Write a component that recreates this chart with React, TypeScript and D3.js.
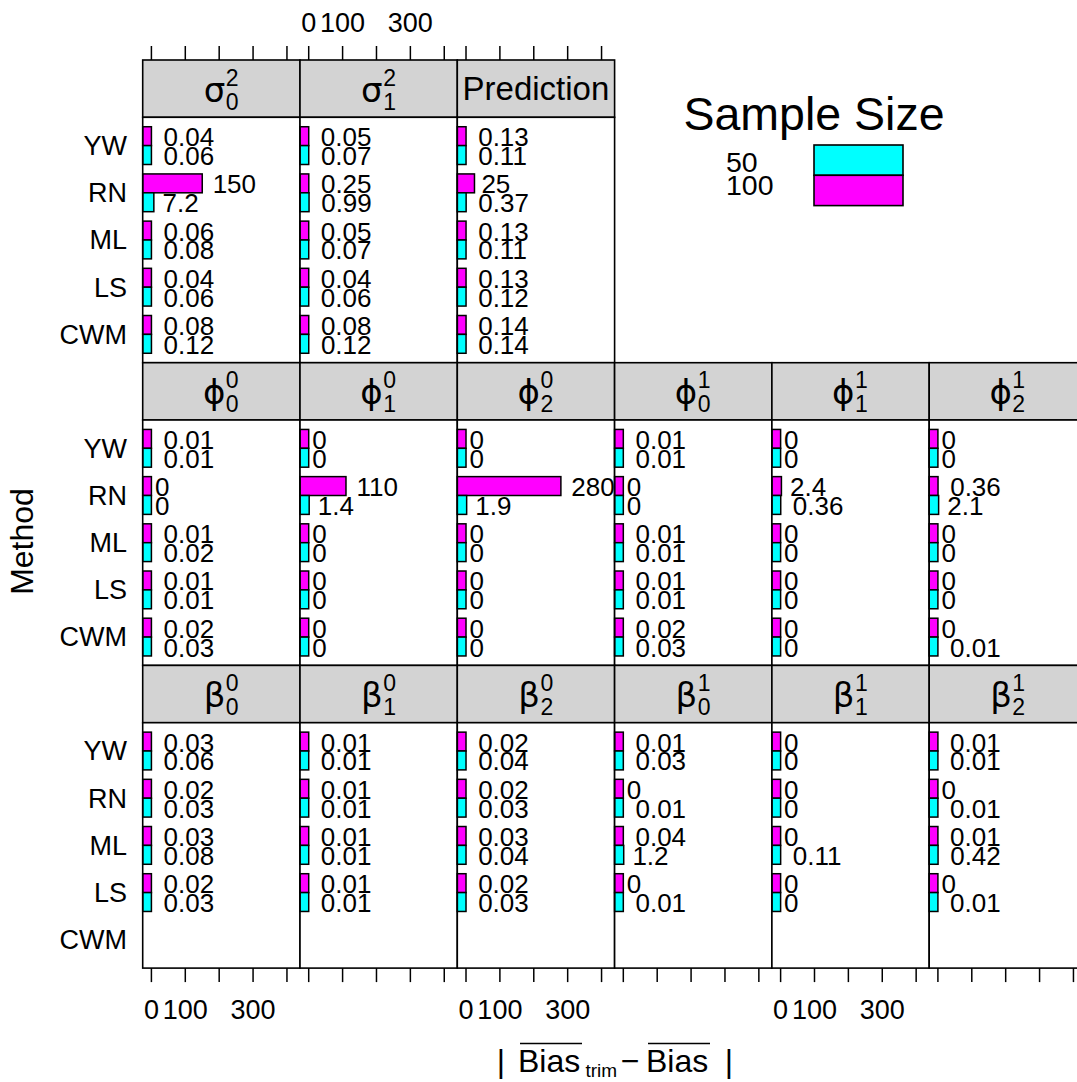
import React from "react";
import * as d3 from "d3";

// Methods, top to bottom inside every panel
const METHODS = ["YW", "RN", "ML", "LS", "CWM"];
// Sample sizes, drawn top (100) to bottom (50) inside each method band
const SIZES = ["100", "50"];
const LEGEND_LEVELS = ["50", "100"];
const SIZE_COLORS: Record<string, string> = { "50": "#00FFFF", "100": "#FF00FF" };

const X_DOMAIN = [-25.7, 438.5];
const X_TICKS = [0, 100, 200, 300, 400];
const X_TICK_LABELS = [0, 100, 300];

// |mean trimmed bias - mean bias| per method (YW, RN, ML, LS, CWM); null = not estimated
const sigma0_100 = [0.04, 150, 0.06, 0.04, 0.08];
const sigma0_50 = [0.06, 7.2, 0.08, 0.06, 0.12];
const sigma1_100 = [0.05, 0.25, 0.05, 0.04, 0.08];
const sigma1_50 = [0.07, 0.99, 0.07, 0.06, 0.12];
const pred_100 = [0.13, 25, 0.13, 0.13, 0.14];
const pred_50 = [0.11, 0.37, 0.11, 0.12, 0.14];

const phi00_100 = [0.01, 0, 0.01, 0.01, 0.02];
const phi00_50 = [0.01, 0, 0.02, 0.01, 0.03];
const phi01_100 = [0, 110, 0, 0, 0];
const phi01_50 = [0, 1.4, 0, 0, 0];
const phi02_100 = [0, 280, 0, 0, 0];
const phi02_50 = [0, 1.9, 0, 0, 0];
const phi10_100 = [0.01, 0, 0.01, 0.01, 0.02];
const phi10_50 = [0.01, 0, 0.01, 0.01, 0.03];
const phi11_100 = [0, 2.4, 0, 0, 0];
const phi11_50 = [0, 0.36, 0, 0, 0];
const phi12_100 = [0, 0.36, 0, 0, 0];
const phi12_50 = [0, 2.1, 0, 0, 0.01];

const beta00_100 = [0.03, 0.02, 0.03, 0.02, null];
const beta00_50 = [0.06, 0.03, 0.08, 0.03, null];
const beta01_100 = [0.01, 0.01, 0.01, 0.01, null];
const beta01_50 = [0.01, 0.01, 0.01, 0.01, null];
const beta02_100 = [0.02, 0.02, 0.03, 0.02, null];
const beta02_50 = [0.04, 0.03, 0.04, 0.03, null];
const beta10_100 = [0.01, 0, 0.04, 0, null];
const beta10_50 = [0.03, 0.01, 1.2, 0.01, null];
const beta11_100 = [0, 0, 0, 0, null];
const beta11_50 = [0, 0, 0.11, 0, null];
const beta12_100 = [0.01, 0, 0.01, 0, null];
const beta12_50 = [0.01, 0.01, 0.42, 0.01, null];

type Title = { text?: string; base?: string; sup?: string; sub?: string };
type Panel = { row: number; col: number; title: Title; v100: (number | null)[]; v50: (number | null)[] };

const PHI = "\u03D5";

const PANELS: Panel[] = [
  { row: 0, col: 0, title: { base: "σ", sup: "2", sub: "0" }, v100: sigma0_100, v50: sigma0_50 },
  { row: 0, col: 1, title: { base: "σ", sup: "2", sub: "1" }, v100: sigma1_100, v50: sigma1_50 },
  { row: 0, col: 2, title: { text: "Prediction" }, v100: pred_100, v50: pred_50 },
  { row: 1, col: 0, title: { base: PHI, sup: "0", sub: "0" }, v100: phi00_100, v50: phi00_50 },
  { row: 1, col: 1, title: { base: PHI, sup: "0", sub: "1" }, v100: phi01_100, v50: phi01_50 },
  { row: 1, col: 2, title: { base: PHI, sup: "0", sub: "2" }, v100: phi02_100, v50: phi02_50 },
  { row: 1, col: 3, title: { base: PHI, sup: "1", sub: "0" }, v100: phi10_100, v50: phi10_50 },
  { row: 1, col: 4, title: { base: PHI, sup: "1", sub: "1" }, v100: phi11_100, v50: phi11_50 },
  { row: 1, col: 5, title: { base: PHI, sup: "1", sub: "2" }, v100: phi12_100, v50: phi12_50 },
  { row: 2, col: 0, title: { base: "β", sup: "0", sub: "0" }, v100: beta00_100, v50: beta00_50 },
  { row: 2, col: 1, title: { base: "β", sup: "0", sub: "1" }, v100: beta01_100, v50: beta01_50 },
  { row: 2, col: 2, title: { base: "β", sup: "0", sub: "2" }, v100: beta02_100, v50: beta02_50 },
  { row: 2, col: 3, title: { base: "β", sup: "1", sub: "0" }, v100: beta10_100, v50: beta10_50 },
  { row: 2, col: 4, title: { base: "β", sup: "1", sub: "1" }, v100: beta11_100, v50: beta11_50 },
  { row: 2, col: 5, title: { base: "β", sup: "1", sub: "2" }, v100: beta12_100, v50: beta12_50 },
];

// Layout of the panel grid
const W = 1077;
const H = 1082;
const LEFT = 142.7;
const COL_STEP = 157.3;
const TOP = 60;
const ROW_STEP = 302.7;
const STRIP_H = 57.3;
const PANEL_H = ROW_STEP - STRIP_H;
const FONT = "'Liberation Sans', Arial, Helvetica, sans-serif";
const LABEL_SIZE = 26;
const AXIS_SIZE = 27;
const TICK_LEN = 14;

const CHAR_EM: Record<string, number> = { ".": 0.278, "-": 0.333 };
const textWidth = (s: string, size: number) =>
  Array.from(s).reduce((w, c) => w + (CHAR_EM[c] ?? 0.556) * size, 0);

const fmt = (v: number) => String(v);

function StripLabel({ title, cx, cy }: { title: Title; cx: number; cy: number }) {
  if (title.text) {
    return (
      <text x={cx} y={cy + 11.5} textAnchor="middle" fontSize={33}>
        {title.text}
      </text>
    );
  }
  const j = cx + 4;
  return (
    <g>
      <text
        x={j}
        y={cy + 13}
        textAnchor="end"
        fontSize={34}
        fontFamily="'DejaVu Sans', 'Liberation Sans', sans-serif"
      >
        {title.base}
      </text>
      <text x={j + 0.5} y={cy - 3} fontSize={23}>
        {title.sup}
      </text>
      <text x={j + 0.5} y={cy + 21} fontSize={23}>
        {title.sub}
      </text>
    </g>
  );
}

export default function App() {
  const colLeft = (c: number) => LEFT + c * COL_STEP;
  const stripTop = (r: number) => TOP + r * ROW_STEP;
  const panelTop = (r: number) => stripTop(r) + STRIP_H;

  const xFor = (c: number) =>
    d3.scaleLinear().domain(X_DOMAIN).range([colLeft(c), colLeft(c) + COL_STEP]);
  const yFor = (r: number) =>
    d3
      .scaleBand<string>()
      .domain(METHODS)
      .range([panelTop(r), panelTop(r) + PANEL_H])
      .paddingInner(0.2)
      .paddingOuter(0.2);

  const bottomRow = 2;
  const bottomY = panelTop(bottomRow) + PANEL_H;

  return (
    <svg
      width={W}
      height={H}
      style={{ position: "absolute", left: 0, top: 0, background: "#ffffff" }}
      fontFamily={FONT}
    >
      <rect x={0} y={0} width={W} height={H} fill="#ffffff" />

      {PANELS.map((p) => {
        const x = xFor(p.col);
        const y = yFor(p.row);
        const sub = d3.scaleBand<string>().domain(SIZES).range([0, y.bandwidth()]);
        const x0 = x.range()[0];
        const series: Record<string, (number | null)[]> = { "100": p.v100, "50": p.v50 };
        return (
          <g key={`${p.row}-${p.col}`}>
            <rect
              x={colLeft(p.col)}
              y={stripTop(p.row)}
              width={COL_STEP}
              height={STRIP_H}
              fill="#d3d3d3"
              stroke="#000"
              strokeWidth={1.6}
            />
            <StripLabel
              title={p.title}
              cx={colLeft(p.col) + COL_STEP / 2}
              cy={stripTop(p.row) + STRIP_H / 2}
            />
            <rect
              x={colLeft(p.col)}
              y={panelTop(p.row)}
              width={COL_STEP}
              height={PANEL_H}
              fill="#ffffff"
            />
            {METHODS.map((m, i) =>
              SIZES.map((s) => {
                const v = series[s][i];
                if (v === null || v === undefined) return null;
                const by = (y(m) as number) + (sub(s) as number);
                const bh = sub.bandwidth();
                const xe = x(v);
                const label = fmt(v);
                const lw = textWidth(label, LABEL_SIZE);
                return (
                  <g key={`${m}-${s}`}>
                    <rect
                      x={x0}
                      y={by}
                      width={xe - x0}
                      height={bh}
                      fill={SIZE_COLORS[s]}
                      stroke="#000"
                      strokeWidth={1.5}
                    />
                    <text x={xe + 0.24 * lw} y={by + bh / 2 + 10} fontSize={LABEL_SIZE}>
                      {label}
                    </text>
                  </g>
                );
              })
            )}
            <rect
              x={colLeft(p.col)}
              y={panelTop(p.row)}
              width={COL_STEP}
              height={PANEL_H}
              fill="none"
              stroke="#000"
              strokeWidth={1.6}
            />
            {p.col === 0 &&
              METHODS.map((m) => (
                <text
                  key={m}
                  x={127}
                  y={(y(m) as number) + y.bandwidth() / 2 + 9.4}
                  textAnchor="end"
                  fontSize={AXIS_SIZE}
                >
                  {m}
                </text>
              ))}
          </g>
        );
      })}

      {/* bottom axis: ticks on every column, labels on alternate columns */}
      {d3.range(6).map((c) => {
        const x = xFor(c);
        return (
          <g key={`bx-${c}`}>
            {X_TICKS.map((t) => (
              <line
                key={t}
                x1={x(t)}
                x2={x(t)}
                y1={bottomY}
                y2={bottomY + TICK_LEN}
                stroke="#000"
                strokeWidth={1.5}
              />
            ))}
            {c % 2 === 0 &&
              X_TICK_LABELS.map((t) => (
                <text key={t} x={x(t)} y={1018.5} textAnchor="middle" fontSize={AXIS_SIZE}>
                  {t}
                </text>
              ))}
          </g>
        );
      })}

      {/* top axis above the first row */}
      {d3.range(3).map((c) => {
        const x = xFor(c);
        return (
          <g key={`tx-${c}`}>
            {X_TICKS.map((t) => (
              <line
                key={t}
                x1={x(t)}
                x2={x(t)}
                y1={TOP}
                y2={TOP - TICK_LEN}
                stroke="#000"
                strokeWidth={1.5}
              />
            ))}
            {c % 2 === 1 &&
              X_TICK_LABELS.map((t) => (
                <text key={t} x={x(t)} y={31.5} textAnchor="middle" fontSize={AXIS_SIZE}>
                  {t}
                </text>
              ))}
          </g>
        );
      })}

      {/* y axis title */}
      <text
        transform="translate(33,541.5) rotate(-90)"
        textAnchor="middle"
        fontSize={32}
      >
        Method
      </text>

      {/* x axis title: | mean(Bias_trim) - mean(Bias) | */}
      <g fontSize={32}>
        <text x={501} y={1072} textAnchor="middle">|</text>
        <text x={518} y={1072}>Bias</text>
        <line x1={520} x2={582} y1={1043.5} y2={1043.5} stroke="#000" strokeWidth={1.5} />
        <text x={585.5} y={1077} fontSize={19}>trim</text>
        <text x={630} y={1072} textAnchor="middle">−</text>
        <text x={646} y={1072}>Bias</text>
        <line x1={648} x2={710} y1={1043.5} y2={1043.5} stroke="#000" strokeWidth={1.5} />
        <text x={729} y={1072} textAnchor="middle">|</text>
      </g>

      {/* legend */}
      <g>
        <text x={814} y={130} textAnchor="middle" fontSize={46.5}>
          Sample Size
        </text>
        {LEGEND_LEVELS.map((s, i) => (
          <g key={s}>
            <text x={726} y={171.5 + i * 23.5} fontSize={28.5}>
              {s}
            </text>
            <rect
              x={814}
              y={145 + i * 30.3}
              width={89}
              height={30.3}
              fill={SIZE_COLORS[s]}
              stroke="#000"
              strokeWidth={1.6}
            />
          </g>
        ))}
      </g>
    </svg>
  );
}
